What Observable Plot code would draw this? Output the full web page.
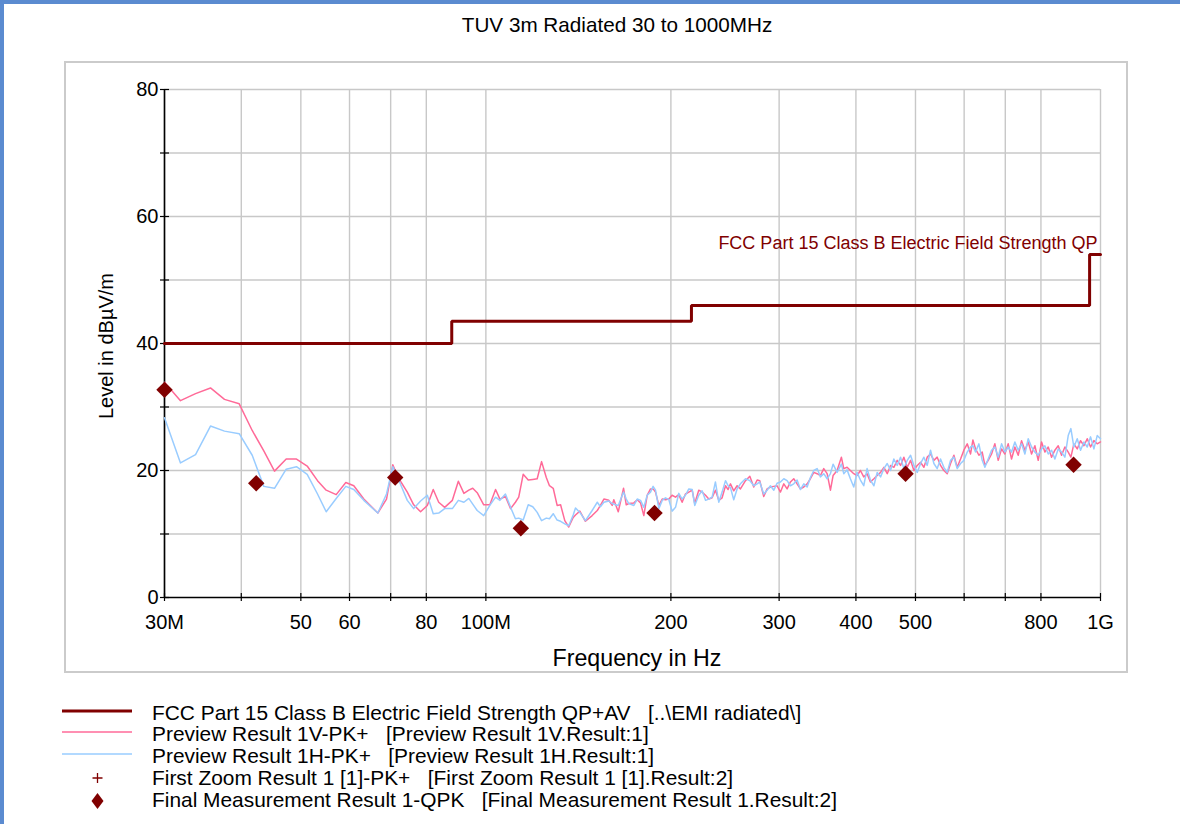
<!DOCTYPE html>
<html>
<head>
<meta charset="utf-8">
<script src="https://cdn.jsdelivr.net/npm/d3@7"></script>
<script src="https://cdn.jsdelivr.net/npm/@observablehq/plot@0.6"></script>
<style>
  body { margin: 0; background: #fff; font-family: "Liberation Sans", Arial, sans-serif; }
  #page { position: relative; width: 1180px; height: 824px; overflow: hidden; background: #fff; }
  #frameL { position: absolute; left: 0; top: 0; width: 4px; height: 824px; background: #5b8bd0; }
  #frameT { position: absolute; left: 0; top: 0; width: 1180px; height: 4px; background: #5b8bd0; }
  #box { position: absolute; left: 64px; top: 61px; width: 1060px; height: 608px; border: 2px solid #cbcbcb; }
  #title { position: absolute; left: 0; top: 13px; width: 1234px; text-align: center; font-size: 20.7px; line-height: 24px; color: #000; white-space: pre; }
  #chart { position: absolute; left: 0; top: 50px; }
  #ylab { position: absolute; left: 6px; top: 334px; width: 200px; height: 24px; line-height: 24px; text-align: center; font-size: 20px; transform: rotate(-90deg); white-space: pre; }
  #xlab { position: absolute; left: 437px; top: 646px; width: 400px; line-height: 24px; text-align: center; font-size: 23.2px; white-space: pre; }
  .leg { position: absolute; left: 152px; font-size: 20.9px; line-height: 24px; white-space: pre; color: #000; }
  #legicons { position: absolute; left: 0; top: 690px; }
</style>
</head>
<body>
<div id="page">
  <div id="frameL"></div>
  <div id="frameT"></div>
  <div id="box"></div>
  <div id="title"></div>
  <div id="chart"></div>
  <div id="ylab"></div>
  <div id="xlab"></div>
  <div id="legend"></div>
</div>
<script>
// ---------------- data ----------------
const titleText = "TUV 3m Radiated 30 to 1000MHz";
const xAxisTitle = "Frequency in Hz";
const yAxisTitle = "Level in dBµV/m";
const limitName = "FCC Part 15 Class B Electric Field Strength QP";

// x tick positions (MHz) and their labels
const xTickValues = [30, 40, 50, 60, 70, 80, 100, 200, 300, 400, 500, 600, 700, 800, 1000];
const xTickLabelValues = [30, 50, 60, 80, 100, 200, 300, 400, 500, 800, 1000];
const xTickLabelTexts = ["30M", "50", "60", "80", "100M", "200", "300", "400", "500", "800", "1G"];
const yTickValues = [0, 10, 20, 30, 40, 50, 60, 70, 80];
const yTickLabelValues = [0, 20, 40, 60, 80];

// limit line (step)
const limitFreq = [30, 88, 88, 216, 216, 960, 960, 1000];
const limitLevel = [40, 40, 43.5, 43.5, 46, 46, 54, 54];

// preview scans (MHz, dBµV/m)
const freqMHz = [
  30.0, 31.85, 33.7, 35.64, 37.56, 39.69, 41.67, 43.52, 45.3, 47.33, 49.19, 51.2, 53.22, 54.98, 57.08, 59.17, 60.97, 63.3, 66.71, 68.92, 70.56,
  72.0, 74.5, 76.3, 78.3, 80.3, 82.1, 83.8, 85.7, 88.2, 90.2, 92.1, 93.8, 95.2, 96.8, 99.2, 101.5, 103.7, 105.4, 107.6, 109.7, 111.7, 113.1, 115.0, 117.2, 119.2, 121.2, 123.2, 125.4, 126.9, 128.7, 130.6, 132.3, 134.4, 136.4, 138.7, 139.9, 142.2, 145.2, 148.9, 151.8, 153.6, 155.6, 158.5, 160.5, 161.5, 164.2, 167.5, 169.2, 170.8,
  174.1, 176.3, 178.5, 180.7, 183.0, 185.3, 187.1, 188.8, 191.2, 193.6,
  196.0, 198.5, 200.9, 203.5, 206.0, 208.6, 211.2, 213.9, 216.6, 218.7,
  222.0, 224.8, 227.7, 230.5, 233.4, 236.3, 239.3, 242.3, 245.4, 247.8,
  250.0, 253.1, 256.3, 259.5, 264.5, 268.8, 272.8, 276.3, 279.0, 283.2,
  286.8, 290.4, 294.1, 297.7, 301.5, 305.3, 309.1, 313.0, 316.9, 320.9,
  324.9, 329.0, 333.2, 337.3, 341.6, 345.9, 350.2, 354.6, 359.1, 363.6,
  367.2, 372.8, 378.8, 382.2, 387.0, 391.8, 396.8, 401.7, 406.8, 411.9,
  417.1, 422.3,
  427.9, 433.2, 438.7, 444.2, 449.8, 455.4, 461.1, 466.9, 472.8, 478.7,
  484.8, 490.9, 497.0, 503.3, 509.6, 516.0, 522.5, 529.0, 535.7, 542.4,
  549.2, 556.1, 563.1, 570.2, 577.4, 584.6, 592.0, 599.4, 607.0, 614.6,
  620.0, 626.2, 634.1, 642.0, 648.5, 656.6, 664.9, 673.2, 681.7, 690.3,
  698.9, 707.7, 716.6, 725.6, 734.7, 744.0, 753.3, 762.8, 772.4, 782.1,
  791.9, 801.9, 811.9, 822.2, 832.5, 842.9, 853.5, 864.3, 875.1, 886.1,
  895.0, 905.1, 916.5, 928.0, 939.7, 951.5, 963.5, 975.6, 987.8, 1000
];
const level1V = [
  33.9, 31.0, 32.1, 33.0, 31.2, 30.5, 26.3, 23.1, 19.9, 21.8, 21.8, 20.7, 18.4, 16.9, 16.2, 18.1, 17.6, 15.5, 13.3, 15.5, 20.9,
  18.9, 16.6, 14.6, 13.5, 14.5, 17.0, 15.0, 14.2, 15.3, 18.3, 16.4, 16.9, 17.2, 16.5, 14.6, 14.6, 17.0, 15.5, 15.9, 14.0, 15.0, 15.8, 19.4, 18.5, 18.6, 18.7, 21.4, 18.9, 17.6, 17.2, 14.5, 14.6, 12.1, 11.1, 12.6, 13.0, 13.6, 12.0, 12.9, 13.7, 14.5, 15.5, 15.3, 14.5, 15.4, 13.5, 17.2, 14.6, 14.8,
  14.9, 15.4, 14.9, 12.9, 16.1, 17.1, 17.1, 16.6, 14.5, 15.5,
  15.4, 15.5, 16.1, 15.8, 16.2, 15.0, 16.3, 16.6, 16.9, 14.8,
  16.9, 16.6, 16.1, 15.5, 15.7, 16.9, 15.3, 15.7, 17.6, 17.0,
  17.9, 16.8, 17.6, 17.1, 18.4, 19.1, 17.4, 18.5, 18.4, 15.9,
  17.1, 17.4, 17.5, 17.6, 16.6, 17.9, 17.1, 18.2, 18.7, 17.9,
  17.1, 17.4, 17.9, 18.7, 19.7, 19.5, 19.2, 20.3, 19.5, 16.9,
  19.2, 20.0, 22.1, 20.3, 20.5, 20.0, 19.5, 19.2, 20.0, 19.0,
  19.5, 18.2,
  18.7, 19.2, 19.7, 20.5, 19.5, 20.8, 20.5, 21.6, 20.8, 22.1,
  20.5, 21.6, 20.0, 20.8, 21.3, 20.5, 22.1, 22.6, 21.6, 22.1,
  20.8, 20.0, 19.5, 21.1, 22.4, 20.5, 21.8, 23.2, 24.2, 22.6,
  24.8, 23.4, 22.4, 22.9, 20.8, 21.6, 22.6, 24.2, 21.6, 23.4,
  22.6, 24.2, 21.8, 23.7, 22.4, 24.7, 23.2, 24.5, 22.6, 23.9,
  21.6, 24.5, 22.9, 23.7, 22.1, 23.2, 23.9, 22.4, 23.7, 22.9,
  22.1, 24.2, 23.4, 24.7, 23.9, 25.0, 23.7, 24.7, 24.2, 24.5
];
const level1H = [
  28.3, 21.2, 22.5, 27.0, 26.2, 25.8, 22.4, 17.5, 17.2, 20.2, 20.6, 19.4, 16.3, 13.5, 15.6, 17.5, 17.0, 15.3, 13.3, 16.3, 20.6,
  18.7, 15.3, 14.0, 15.2, 16.1, 13.2, 13.3, 14.0, 14.0, 15.3, 15.0, 15.6, 14.7, 13.7, 12.9, 14.5, 15.8, 15.3, 16.3, 14.2, 12.4, 12.5, 12.2, 14.6, 14.3, 13.4, 12.1, 12.5, 12.4, 13.2, 12.2, 12.0, 11.6, 11.3, 13.0, 14.1, 13.4, 12.1, 13.7, 15.0, 14.3, 15.0, 15.2, 14.8, 14.7, 14.5, 16.6, 15.5, 14.8,
  14.5, 15.5, 15.3, 14.2, 16.1, 16.6, 17.5, 16.9, 14.0, 15.3,
  15.7, 15.4, 13.6, 14.2, 16.4, 15.5, 16.1, 17.1, 17.0, 14.5,
  16.1, 16.8, 15.3, 15.5, 15.8, 18.2, 15.0, 16.6, 18.4, 17.6,
  17.3, 15.4, 17.1, 17.9, 18.7, 18.4, 17.6, 17.9, 18.2, 16.3,
  16.9, 17.6, 16.9, 18.0, 18.2, 18.7, 18.4, 17.6, 17.9, 18.5,
  17.0, 17.9, 17.4, 18.9, 20.0, 20.3, 19.0, 19.5, 18.7, 19.5,
  21.0, 19.7, 21.0, 19.5, 20.1, 18.7, 17.4, 19.7, 18.5, 17.6,
  20.3, 18.5,
  17.6, 19.7, 19.0, 20.3, 21.1, 20.0, 21.8, 20.8, 22.1, 20.3,
  21.6, 22.4, 20.8, 19.7, 21.1, 22.1, 20.8, 23.2, 21.1, 20.3,
  21.8, 20.5, 19.7, 21.6, 22.1, 20.3, 21.1, 21.6, 22.9, 23.7,
  23.9, 22.9, 24.2, 21.6, 20.5, 21.8, 23.2, 23.7, 22.1, 24.2,
  22.9, 23.7, 22.9, 24.5, 23.2, 24.2, 22.6, 25.0, 23.7, 22.9,
  22.4, 23.4, 23.9, 22.6, 23.2, 21.8, 23.4, 22.9, 22.1, 25.5,
  26.6, 23.7, 25.0, 23.2, 24.5, 23.7, 25.3, 23.4, 25.5, 25.0
];

// final quasi-peak measurements
const finalFreq = [30.0, 42.3, 71.2, 114.0, 188.1, 481.8, 904.0];
const finalLevel = [32.7, 18.0, 18.9, 10.9, 13.3, 19.5, 20.9];

// legend entries
const legendTexts = [
  "FCC Part 15 Class B Electric Field Strength QP+AV   [..\\EMI radiated\\]",
  "Preview Result 1V-PK+   [Preview Result 1V.Result:1]",
  "Preview Result 1H-PK+   [Preview Result 1H.Result:1]",
  "First Zoom Result 1 [1]-PK+   [First Zoom Result 1 [1].Result:2]",
  "Final Measurement Result 1-QPK   [Final Measurement Result 1.Result:2]"
];

// ---------------- styles ----------------
const cLimit = "#800000";
const cV = "#ff6a98";
const cH = "#99ccff";
const cGrid = "#c8c8c8";

// ---------------- build ----------------
const limitRows = limitFreq.map((f, i) => ({f, L: limitLevel[i]}));
const previewRows = freqMHz.map((f, i) => ({f, v: level1V[i], h: level1H[i]}));
const finalRows = finalFreq.map((f, i) => ({f, L: finalLevel[i]}));
const xLabelRows = xTickLabelValues.map((f, i) => ({f, t: xTickLabelTexts[i]}));
const yGrid = yTickValues.filter(d => d > 0);

const chart = Plot.plot({
  width: 1180,
  height: 630,
  marginTop: 39,
  marginBottom: 83,
  marginLeft: 164,
  marginRight: 80,
  style: {fontFamily: '"Liberation Sans", Arial, sans-serif', fontSize: "20px", background: "transparent", color: "#000", overflow: "visible"},
  x: {type: "log", domain: [30, 1000], label: null},
  y: {domain: [0, 80], label: null},
  marks: [
    Plot.ruleX(xTickValues, {stroke: cGrid, strokeWidth: 1.4}),
    Plot.ruleY(yGrid, {stroke: cGrid, strokeWidth: 1.4}),
    Plot.ruleX([30], {stroke: "#000", strokeWidth: 1.6}),
    Plot.ruleY([0], {stroke: "#000", strokeWidth: 1.6}),
    Plot.axisX({ticks: xTickValues, tickSize: 8, dy: -4, tickFormat: () => "", label: null, stroke: "#000", strokeWidth: 1.2}),
    Plot.text(xLabelRows, {x: "f", text: "t", frameAnchor: "bottom", lineAnchor: "middle", dy: 25, fontSize: 20, fill: "#000"}),
    Plot.axisY({ticks: yTickValues, tickSize: 9, dx: 5, tickPadding: 2, fontSize: 20,
      tickFormat: d => yTickLabelValues.includes(d) ? String(d) : "", label: null, stroke: "#000", strokeWidth: 1.2}),
    Plot.line(limitRows, {x: "f", y: "L", stroke: cLimit, strokeWidth: 3, strokeLinejoin: "miter"}),
    Plot.text([{f: 1000, L: 54, t: limitName}], {x: "f", y: "L", text: "t", textAnchor: "end", dx: -3, dy: -11, fill: cLimit, fontSize: 18}),
    Plot.line(previewRows, {x: "f", y: "v", stroke: cV, strokeWidth: 1.5}),
    Plot.line(previewRows, {x: "f", y: "h", stroke: cH, strokeWidth: 1.5}),
    Plot.dot(finalRows, {x: "f", y: "L", symbol: "diamond2", r: 7.4, fill: cLimit, stroke: "none"})
  ]
});
document.getElementById("chart").appendChild(chart);
document.getElementById("title").textContent = titleText;
document.getElementById("xlab").textContent = xAxisTitle;
document.getElementById("ylab").textContent = yAxisTitle;

// legend
const legendY = [713, 734, 756, 778, 800];
const legend = document.getElementById("legend");
legendTexts.forEach((t, i) => {
  const d = document.createElement("div");
  d.className = "leg";
  d.style.top = (legendY[i] - 12) + "px";
  d.textContent = t;
  legend.appendChild(d);
});
const ns = "http://www.w3.org/2000/svg";
const svg = document.createElementNS(ns, "svg");
svg.setAttribute("width", 200);
svg.setAttribute("height", 134);
svg.setAttribute("id", "legicons");
const off = 690;
function el(name, attrs) {
  const e = document.createElementNS(ns, name);
  for (const k in attrs) e.setAttribute(k, attrs[k]);
  svg.appendChild(e);
}
el("line", {x1: 62, x2: 132, y1: 711 - off, y2: 711 - off, stroke: cLimit, "stroke-width": 3});
el("line", {x1: 62, x2: 132, y1: 732 - off, y2: 732 - off, stroke: cV, "stroke-width": 1.5});
el("line", {x1: 62, x2: 132, y1: 754 - off, y2: 754 - off, stroke: cH, "stroke-width": 1.5});
el("path", {d: `M92.5 ${778 - off}h10M97.5 ${773 - off}v10`, stroke: cLimit, "stroke-width": 1.3, fill: "none"});
el("path", {d: `M97.5 ${793 - off}L103.5 ${801 - off}L97.5 ${809 - off}L91.5 ${801 - off}Z`, fill: cLimit});
legend.appendChild(svg);
</script>
</body>
</html>
